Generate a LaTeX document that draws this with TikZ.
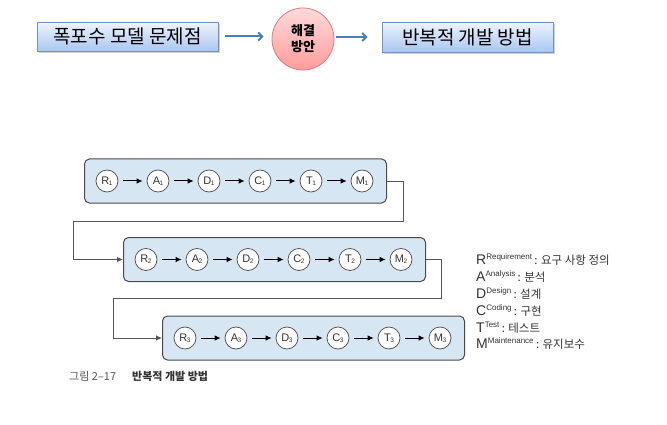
\documentclass[tikz,border=0pt]{standalone}
\usepackage{fontspec}
\setmainfont{Liberation Sans}
\newfontfamily\kr{Noto Sans CJK KR}
\usetikzlibrary{arrows.meta,shadows,shapes.geometric}
\definecolor{rowfill}{HTML}{D6E6F3}
\definecolor{rowline}{HTML}{4A4A4A}
\definecolor{topline}{HTML}{6F93C6}
\definecolor{toptop}{HTML}{EEF4FD}
\definecolor{topbot}{HTML}{A9C7F0}
\definecolor{pinktop}{HTML}{FFDADA}
\definecolor{pinkbot}{HTML}{FF9C9C}
\definecolor{pinkline}{HTML}{E07A7A}
\definecolor{bluearrow}{HTML}{4A7EBB}
\definecolor{txt}{HTML}{333333}
\definecolor{captgray}{HTML}{555555}
\begin{document}
\begin{tikzpicture}[x=1pt,y=-1pt,
  topbox/.style={draw=topline, line width=0.8pt, top color=toptop, bottom color=topbot,
    inner sep=0pt, drop shadow={opacity=0.35, shadow xshift=2pt, shadow yshift=-2pt},
    font=\kr\fontsize{19}{19}\selectfont},
  solution/.style={ellipse, draw=pinkline, line width=0.8pt, top color=pinktop, bottom color=pinkbot,
    inner sep=0pt, minimum width=62pt, minimum height=62pt, align=center,
    font=\kr\bfseries\fontsize{13}{16}\selectfont},
  toparrow/.style={draw=bluearrow, line width=2pt, -{Straight Barb[length=4pt,width=8pt]}},
  rowbox/.style={draw=rowline, line width=1pt, fill=rowfill, rounded corners=5pt,
    minimum width=302pt, minimum height=44pt, inner sep=0pt},
  stagec/.style={circle, draw=rowline, line width=0.7pt, fill=white, minimum size=22pt,
    inner sep=0pt, text=txt, font=\fontsize{11}{11}\selectfont},
  stagearrow/.style={draw=black, line width=1pt, -{Latex[length=6pt,width=5.5pt]},
    shorten <=5pt, shorten >=4pt},
  conn/.style={draw=captgray, line width=0.8pt, -{Latex[length=6pt,width=5.5pt]}},
  legend/.style={anchor=base west, inner sep=0pt, text=txt, font=\fontsize{14}{14}\selectfont},
]
\useasboundingbox (0,0) rectangle (667,425);

% top row
\node[topbox, minimum width=181pt, minimum height=29pt] (prob) at (127.5,36.5) {폭포수 모델 문제점};
\node[solution] (sol) at (303,39) {해결\\방안};
\node[topbox, minimum width=171pt, minimum height=30pt] (iter) at (467.5,37) {반복적 개발 방법};
\draw[toparrow, shorten <=7pt, shorten >=8pt] (prob.east) -- (prob.east -| sol.west);
\draw[toparrow, shorten <=2pt, shorten >=14pt] (sol.east |- iter.west) -- (iter.west);

% rows
\foreach \r in {1,2,3}{
  \pgfmathsetmacro\L{84+39*(\r-1)}
  \pgfmathsetmacro\Y{181+78.5*(\r-1)}
  \node[rowbox, anchor=west] (row\r) at (\L,\Y) {};
  \foreach \l [count=\i from 0] in {R,A,D,C,T,M}{
    \node[stagec] (\l\r) at (\L+23+51*\i,\Y) {\l\kern-0.5pt\raisebox{-1pt}{\fontsize{6.5}{6.5}\selectfont\r}};
  }
  \foreach \a/\b in {R/A,A/D,D/C,C/T,T/M}{
    \draw[stagearrow] (\a\r) -- (\b\r);
  }
}

% connectors
\coordinate (c1a) at (403,181);
\coordinate (c1b) at (403,221);
\coordinate (c1c) at (73,221);
\draw[conn] (row1.east) -- (c1a) -- (c1b) -- (c1c) |- (row2.west);
\coordinate (c2a) at (441,259.5);
\coordinate (c2b) at (441,298);
\coordinate (c2c) at (113,298);
\draw[conn] (row2.east) -- (c2a) -- (c2b) -- (c2c) |- (row3.west);

% legend
\newcommand\supl[1]{\raisebox{5pt}{\fontsize{8}{8}\selectfont #1}}
\newcommand\krl[1]{{\kr\fontsize{11.5}{11.5}\selectfont #1}}
\node[legend] (lgR) at (476,264) {R\supl{Requirement}\,\krl{: 요구 사항 정의}};
\node[legend] (lgA) at (476,281.5) {A\supl{Analysis}\,\krl{: 분석}};
\node[legend] (lgD) at (476,298.5) {D\supl{Design}\,\krl{: 설계}};
\node[legend] (lgC) at (476,315.5) {C\supl{Coding}\,\krl{: 구현}};
\node[legend] (lgT) at (476,332) {T\supl{Test}\,\krl{: 테스트}};
\node[legend] (lgM) at (476,348.5) {M\supl{Maintenance}\,\krl{: 유지보수}};

% caption
\node[anchor=base west, inner sep=0pt, text=captgray, font=\kr\fontsize{11}{11}\selectfont] (capnum) at (69,380) {그림 2–17};
\node[anchor=base west, inner sep=0pt, text=txt, font=\kr\bfseries\fontsize{11}{11}\selectfont] (captitle) at (132,380) {반복적 개발 방법};
\end{tikzpicture}
\end{document}
